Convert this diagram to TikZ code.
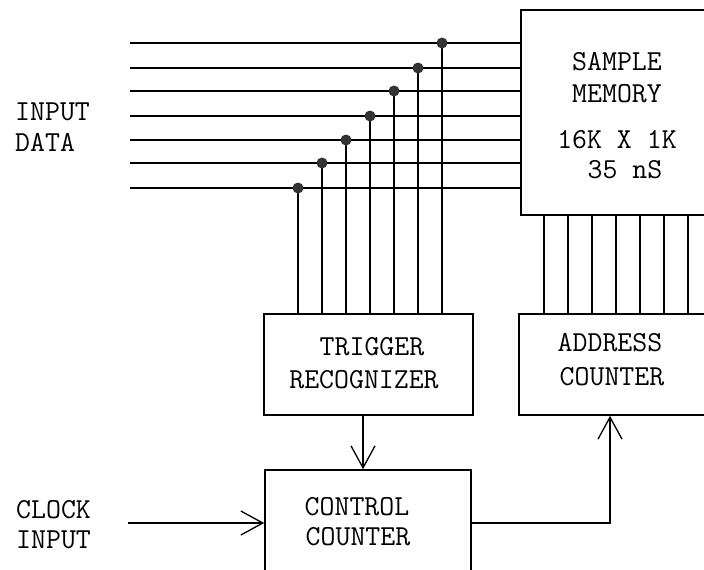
\documentclass[tikz,border=0pt]{standalone}
\usetikzlibrary{arrows.meta}
\begin{document}
\begin{tikzpicture}[x=1pt,y=-1pt,
  wire/.style={line width=1.5pt},
  blk/.style={draw,line width=1.6pt,inner sep=0,rectangle},
  lbl/.style={inner sep=0,font=\fontsize{29}{32}\selectfont\ttfamily},
  barb/.style={wire,-{Straight Barb[length=22pt,width=24pt,line width=1.3pt]}},
  dot/.style={circle,fill=black!80,inner sep=0,minimum size=11pt}]
\useasboundingbox (0,0) rectangle (704,570);
\clip (0,0) rectangle (704,570);
% blocks
\node[blk,minimum width=199pt,minimum height=205pt] (mem) at (620.5,112.5) {};
\node[blk,minimum width=209pt,minimum height=101pt] (trig) at (368.5,364.5) {};
\node[blk,minimum width=201pt,minimum height=101pt] (addr) at (619.5,364.5) {};
\node[blk,minimum width=206pt,minimum height=130pt] (ctrl) at (368,535) {};
% texts
\node[lbl] (t1) at (617,62) {SAMPLE};
\node[lbl] (t2) at (617,94) {MEMORY};
\node[lbl] (t3) at (617,140) {16K X 1K};
\node[lbl] (t4) at (625,170) {35 nS};
\node[lbl,anchor=west] (t5) at (15,112) {INPUT};
\node[lbl,anchor=west] (t6) at (15,142) {DATA};
\node[lbl,anchor=west] (t7) at (16,510) {CLOCK};
\node[lbl,anchor=west] (t8) at (16,540) {INPUT};
\node[lbl] (t9) at (372,347) {TRIGGER};
\node[lbl] (t10) at (364,380) {RECOGNIZER};
\node[lbl] (t11) at (610,343) {ADDRESS};
\node[lbl] (t12) at (612,377) {COUNTER};
\node[lbl] (t13) at (357,507) {CONTROL};
\node[lbl] (t14) at (358,537) {COUNTER};
% input data lines with taps
\foreach \i/\y/\x in {1/43/442,2/68/418,3/91/394,4/116/370,5/140/346,6/163/322,7/188/298}{
  \coordinate (in\i) at (130,\y);
  \coordinate (tap\i) at (\x,\y);
  \draw[wire] (in\i) -- (in\i -| mem.west);
  \draw[wire] (tap\i) -- (tap\i |- trig.north);
  \node[dot] (dt\i) at (tap\i) {};
}
% memory to address counter bus
\foreach \x in {544,568,592,616,640,664,688}{
  \coordinate (ab\x) at (\x,215);
  \draw[wire] (ab\x |- mem.south) -- (ab\x |- addr.north);
}
% arrows
\coordinate (tr) at (363,415);
\draw[barb] (tr |- trig.south) -- (tr |- ctrl.north);
\coordinate (clk) at (128,523);
\draw[barb] (clk) -- (clk -| ctrl.west);
\coordinate (bend) at (610,523);
\draw[barb] (bend -| ctrl.east) -- (bend) -- (bend |- addr.south);
\end{tikzpicture}
\end{document}
